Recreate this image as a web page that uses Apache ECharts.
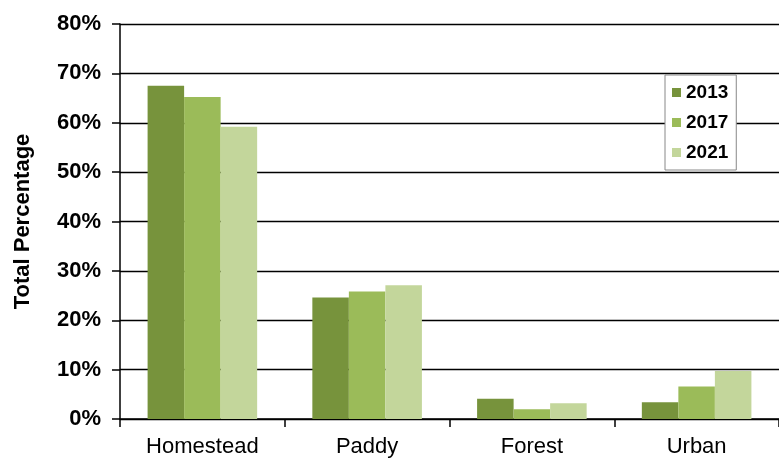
<!DOCTYPE html>
<html><head><meta charset="utf-8">
<script src="https://cdn.jsdelivr.net/npm/echarts@6/dist/echarts.min.js"></script>
<style>html,body{margin:0;padding:0;background:#fff}#c{width:779px;height:458px}</style>
</head><body><div id="c"></div>
<script>
const categories = ['Homestead', 'Paddy', 'Forest', 'Urban'];
const years = ['2013', '2017', '2021'];
const v2013 = [67.5, 24.6, 4.1, 3.4];
const v2017 = [65.2, 25.8, 2.0, 6.6];
const v2021 = [59.2, 27.1, 3.2, 9.7];
const yTicks = [0, 10, 20, 30, 40, 50, 60, 70, 80];
const colors = ['#77933C', '#9BBB59', '#C3D69B'];
const F = '"Liberation Sans", Arial, sans-serif';
const chart = echarts.init(document.getElementById('c'));
const vals = [v2013, v2017, v2021];
chart.setOption({
  animation: false,
  grid: { left: 120, right: -5, top: 24, bottom: 39 },
  legend: {
    data: years, orient: 'vertical', left: 665, top: 75,
    width: 71, height: 95,
    itemWidth: 9, itemHeight: 9, itemGap: 11,
    padding: [8, 8, 8, 7],
    borderColor: '#888', borderWidth: 1, backgroundColor: '#fff',
    textStyle: { fontFamily: F, fontWeight: 'bold', fontSize: 19, color: '#000' },
    icon: 'rect'
  },
  xAxis: {
    type: 'category', data: categories,
    axisLine: { lineStyle: { color: '#000', width: 1.5 } },
    axisTick: { show: true, length: 8, lineStyle: { color: '#000', width: 1.5 } },
    axisLabel: { fontFamily: F, fontSize: 22, color: '#000', margin: 17 }
  },
  yAxis: {
    type: 'value', min: yTicks[0], max: yTicks[yTicks.length - 1], interval: 10,
    name: 'Total Percentage', nameLocation: 'middle', nameGap: 86, nameRotate: 90,
    nameTextStyle: { fontFamily: F, fontWeight: 'bold', fontSize: 22, color: '#000' },
    axisLine: { show: true, lineStyle: { color: '#000', width: 1.5 } },
    axisTick: { show: true, length: 8, lineStyle: { color: '#000', width: 1.5 } },
    splitLine: { lineStyle: { color: '#000', width: 1.3 } },
    axisLabel: { formatter: '{value}%', fontFamily: F, fontWeight: 'bold', fontSize: 22, color: '#000', margin: 19 }
  },
  series: years.map((y, i) => ({
    name: y, type: 'bar', data: vals[i],
    barGap: '0%', barCategoryGap: '33.5%',
    itemStyle: { color: colors[i] }
  }))
});
</script></body></html>
